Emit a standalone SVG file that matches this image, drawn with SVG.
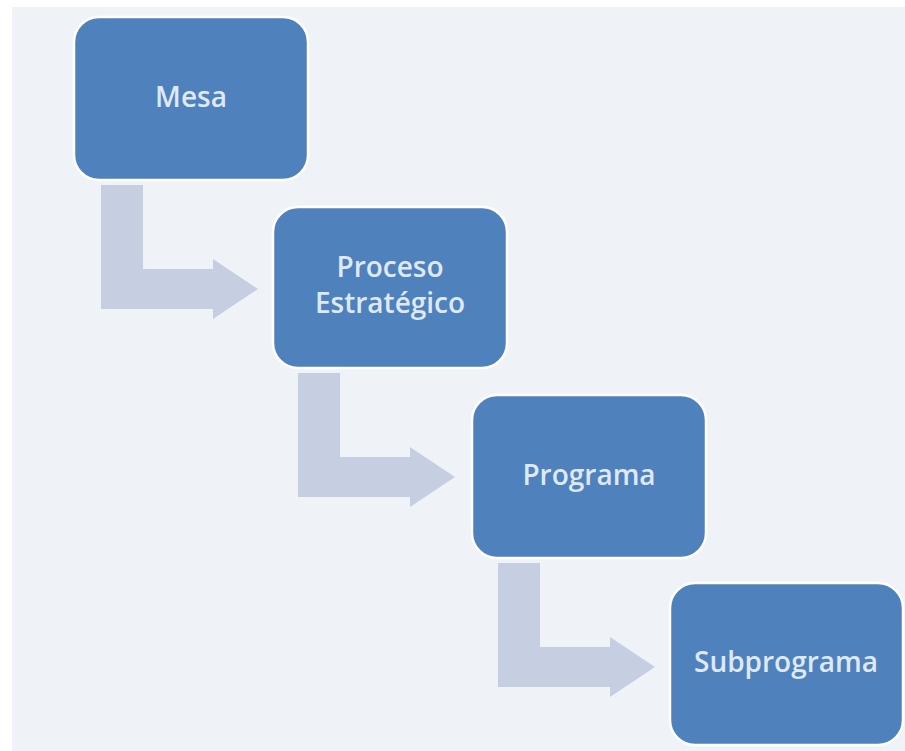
<svg xmlns="http://www.w3.org/2000/svg" width="905" height="751" viewBox="0 0 905 751">
<style>
.box{fill:#4f81bd;stroke:#ffffff;stroke-width:2.5}
.lbl{font-family:"Open Sans","Noto Sans",sans-serif;font-size:28px;font-weight:600;fill:#dfe9f6;text-anchor:middle}
.arr{fill:#c6cfe2}
</style>
<defs>
<path id="bent" d="M0,0 H42 V84 H112 V74 L157,104 L112,134 V124 H0 Z"/>
</defs>
<rect x="0" y="0" width="905" height="751" fill="#ffffff"/>
<rect x="12" y="7" width="893" height="744" fill="#eff3f8"/>
<g id="connectors">
<use href="#bent" class="arr" x="101" y="185"/>
<use href="#bent" class="arr" x="298" y="373"/>
<use href="#bent" class="arr" x="498" y="563"/>
</g>
<g id="mesa">
<rect class="box" x="74" y="17" width="234" height="163" rx="25"/>
<text class="lbl" x="191" y="107">Mesa</text>
</g>
<g id="proceso">
<rect class="box" x="273" y="207" width="234" height="161" rx="25"/>
<text class="lbl" x="390" y="277">Proceso</text>
<text class="lbl" x="390" y="313">Estratégico</text>
</g>
<g id="programa">
<rect class="box" x="472" y="395" width="234" height="163" rx="25"/>
<text class="lbl" x="589" y="485">Programa</text>
</g>
<g id="subprograma">
<rect class="box" x="670" y="583" width="233" height="162" rx="25"/>
<text class="lbl" x="786" y="672">Subprograma</text>
</g>
</svg>
